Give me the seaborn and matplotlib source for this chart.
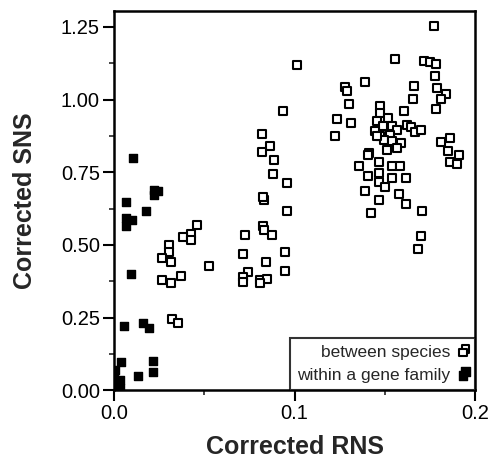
import numpy as np
import pandas as pd
import matplotlib
matplotlib.use('Agg')
import matplotlib.pyplot as plt
from matplotlib.ticker import MultipleLocator, FormatStrFormatter
import seaborn as sns

# between species (open squares)
between_rns = [0.0462, 0.0425, 0.0384, 0.0425, 0.0305, 0.0305, 0.0268, 0.0314, 0.0528,
               0.0268, 0.0314, 0.0371, 0.0320, 0.0353,
               0.0833, 0.0957, 0.0824, 0.0833, 0.0874, 0.0726, 0.0947, 0.0713, 0.0840,
               0.0947, 0.0744, 0.0713, 0.0713, 0.0809, 0.0849, 0.0809,
               0.1012, 0.0934, 0.0822, 0.0864, 0.0822, 0.0888, 0.0879, 0.0960, 0.0827,
               0.1773, 0.1557, 0.1717, 0.1751, 0.1784, 0.1780, 0.1391, 0.1280, 0.1289,
               0.1664, 0.1788, 0.1839, 0.1810, 0.1653, 0.1302, 0.1474, 0.1782, 0.1607,
               0.1234, 0.1474, 0.1311, 0.1224,
               0.1455, 0.1520, 0.1492, 0.1538, 0.1446, 0.1566, 0.1474, 0.1529, 0.1496,
               0.1538, 0.1588, 0.1511, 0.1566, 0.1455, 0.1621, 0.1644, 0.1668, 0.1699,
               0.1812, 0.1858, 0.1852, 0.1908, 0.1862, 0.1902,
               0.1413, 0.1404, 0.1470, 0.1359, 0.1538, 0.1584, 0.1404, 0.1465, 0.1470,
               0.1538, 0.1618, 0.1501, 0.1391, 0.1576, 0.1470, 0.1618, 0.1422, 0.1708,
               0.1699, 0.1686]
between_sns = [0.569, 0.537, 0.527, 0.517, 0.498, 0.477, 0.454, 0.440, 0.429,
               0.379, 0.368, 0.393, 0.244, 0.230,
               0.653, 0.618, 0.566, 0.552, 0.534, 0.534, 0.477, 0.468, 0.442,
               0.411, 0.408, 0.391, 0.373, 0.379, 0.382, 0.368,
               1.118, 0.960, 0.882, 0.841, 0.821, 0.791, 0.744, 0.713, 0.664,
               1.255, 1.141, 1.132, 1.129, 1.121, 1.083, 1.060, 1.044, 1.029,
               1.046, 1.040, 1.021, 1.003, 1.003, 0.986, 0.979, 0.969, 0.962,
               0.933, 0.954, 0.920, 0.874,
               0.926, 0.937, 0.910, 0.910, 0.891, 0.894, 0.876, 0.879, 0.862,
               0.856, 0.851, 0.828, 0.833, 0.874, 0.914, 0.906, 0.889, 0.894,
               0.853, 0.868, 0.822, 0.810, 0.785, 0.779,
               0.816, 0.810, 0.785, 0.770, 0.770, 0.770, 0.738, 0.747, 0.718,
               0.730, 0.730, 0.698, 0.687, 0.676, 0.653, 0.641, 0.609, 0.615,
               0.529, 0.485]

# within a gene family (filled squares)
within_rns = [0.0107, 0.0223, 0.0245, 0.0223, 0.0066, 0.0176, 0.0066, 0.0098, 0.0066,
              0.0094, 0.0054, 0.0162, 0.0194, 0.0039, 0.0214, 0.0214, 0.0135,
              0.0006, 0.0033, 0.0006, 0.0033, 0.0002]
within_sns = [0.799, 0.690, 0.684, 0.672, 0.649, 0.618, 0.592, 0.586, 0.566,
              0.399, 0.222, 0.230, 0.215, 0.098, 0.101, 0.063, 0.048,
              0.069, 0.034, 0.017, 0.006, 0.046]

between = pd.DataFrame({'RNS': between_rns, 'SNS': between_sns})
within = pd.DataFrame({'RNS': within_rns, 'SNS': within_sns})

sns.set_style('ticks')
plt.rcParams['font.family'] = ['Liberation Sans', 'DejaVu Sans']

fig = plt.figure(figsize=(4.95, 4.59), dpi=100)
ax = fig.add_axes([0.230, 0.150, 0.730, 0.826])

sns.scatterplot(data=between, x='RNS', y='SNS', ax=ax, marker='s', s=30,
                facecolor='white', edgecolor='black', linewidth=1.5,
                label='between species', zorder=3)
sns.scatterplot(data=within, x='RNS', y='SNS', ax=ax, marker='s', s=40,
                color='black', edgecolor='black', linewidth=1,
                label='within a gene family', zorder=3)

ax.set_xlim(0, 0.2)
ax.set_ylim(0, 1.305)
ax.xaxis.set_major_locator(MultipleLocator(0.1))
ax.xaxis.set_minor_locator(MultipleLocator(0.05))
ax.yaxis.set_major_locator(MultipleLocator(0.25))
ax.yaxis.set_minor_locator(MultipleLocator(0.125))
ax.xaxis.set_major_formatter(FormatStrFormatter('%.1f'))
ax.yaxis.set_major_formatter(FormatStrFormatter('%.2f'))
ax.tick_params(which='major', direction='out', length=8, width=1.5, labelsize=14.5,
               colors='black', pad=2)
ax.tick_params(which='minor', direction='out', length=3.5, width=1.2)

for side in ['left', 'right', 'top', 'bottom']:
    ax.spines[side].set_visible(True)
    ax.spines[side].set_linewidth(1.8)
    ax.spines[side].set_color('black')

ax.set_xlabel('Corrected RNS', fontsize=18, fontweight='bold')
ax.set_ylabel('Corrected SNS', fontsize=18, fontweight='bold')
ax.xaxis.set_label_coords(0.5, -0.150)
ax.yaxis.set_label_coords(-0.245, 0.5)
ax.xaxis.label.set_va('center')
ax.yaxis.label.set_va('center')

leg = ax.legend(loc='lower right', borderaxespad=0, markerfirst=False,
                fontsize=12.5, frameon=True, fancybox=False, edgecolor='black',
                handlelength=0.45, handletextpad=0.6, scatterpoints=2,
                scatteryoffsets=[0.7, 0.4], borderpad=0.4, labelspacing=0.45)
leg.get_frame().set_linewidth(1.5)
leg._legend_box.align = 'right'

fig.savefig('out.png', dpi=100)
